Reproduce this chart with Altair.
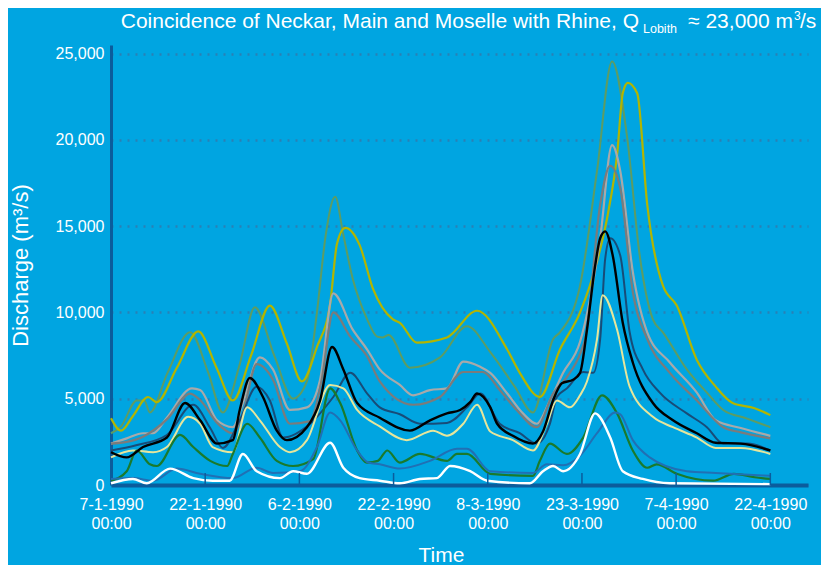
import altair as alt
import pandas as pd

BG = "#00a5e1"
AXIS_BLUE = "#0b5c9c"
GRID_BLUE = "#2a80b5"

# Days since 7-1-1990 00:00 and discharge (m3/s) per hydrograph
mg_d = [0, 1.6, 4.1, 5.3, 6.2, 9.0, 12.6, 15.5, 17.8, 20.5, 22.9, 26.0, 29.0, 31.2, 32.8, 34.2, 35.7, 37.0, 38.5, 40.8, 42.4, 43.3, 44.2, 47.6, 52.4, 56.7, 60.4, 64.3, 67.2, 70.4, 71.5, 74.7, 77.4, 79.8, 82.2, 84.2, 86.3, 87.9, 91.7, 94.9, 97.5, 101.3, 105]
mg_q = [3000, 3400, 4900, 4900, 4200, 6500, 8850, 6500, 4200, 7000, 10300, 7500, 5000, 6000, 10000, 14500, 16700, 14500, 11950, 9600, 8600, 8550, 8700, 6800, 7400, 9200, 7700, 5700, 4200, 8450, 8850, 11550, 18200, 24550, 20150, 13300, 9600, 8850, 6700, 5350, 4350, 3850, 3350]

yg_d = [0, 1.6, 3.5, 5.9, 7.3, 10.5, 13.9, 16.8, 19.4, 22.3, 25.3, 28.0, 30.4, 32.8, 34.9, 36.0, 37.3, 39.6, 41.7, 44.9, 46.0, 48.7, 53.5, 58.3, 63.1, 65.1, 68.3, 71.5, 74.7, 77.4, 79.1, 80.6, 81.5, 82.3, 83.8, 85.4, 87.9, 90.1, 93.3, 96.3, 99.0, 102.5, 105]
yg_q = [3870, 3150, 4000, 5100, 4800, 6800, 8900, 6800, 4900, 7500, 10400, 8200, 6000, 8000, 10500, 14000, 14900, 13900, 11400, 9600, 9400, 8250, 8550, 10100, 7850, 6500, 5100, 7850, 10000, 12950, 15650, 19150, 22700, 23300, 22700, 16250, 11550, 10400, 7250, 5700, 4750, 4450, 4050]

lg_d = [0, 2.5, 5.1, 6.7, 8.9, 12.9, 14.2, 16.9, 19.4, 21.0, 23.7, 25.8, 28.5, 31.2, 33.3, 35.4, 38.5, 40.8, 42.8, 46.0, 48.1, 50.8, 53.5, 56.1, 58.8, 60.4, 63.1, 65.6, 67.8, 69.9, 72.0, 74.7, 77.9, 79.8, 81.1, 83.1, 85.4, 89.0, 93.3, 96.3, 100.3, 105]
lg_q = [2400, 2700, 3000, 3000, 3900, 5600, 5500, 3750, 3350, 4750, 7400, 6700, 4350, 4500, 6100, 11100, 9000, 7850, 6700, 5800, 5200, 5500, 5600, 7150, 6850, 6500, 5300, 4150, 3550, 4900, 6500, 8300, 14300, 19700, 18200, 12350, 8850, 7100, 5350, 3750, 3300, 2850]

dg_d = [0, 2.5, 5.1, 8.9, 12.6, 14.5, 16.9, 19.4, 21.0, 23.2, 25.8, 28.5, 31.7, 33.5, 35.4, 38.1, 40.8, 42.8, 48.1, 52.4, 56.1, 59.2, 61.9, 64.6, 67.8, 70.4, 72.6, 74.7, 75.6, 77.9, 79.5, 81.1, 83.1, 85.4, 89.0, 93.3, 97.5, 100.3, 105]
dg_q = [2400, 2500, 2800, 3800, 5300, 4800, 3600, 3000, 4150, 7000, 6100, 3550, 3700, 6000, 10000, 8600, 7450, 6000, 4650, 5100, 6550, 6550, 5500, 4350, 3350, 5300, 6250, 7600, 8600, 16250, 18500, 17200, 11200, 8450, 6500, 4900, 3350, 3050, 2700]

nv_d = [0, 4.0, 8.9, 13.1, 15.8, 17.8, 20.5, 23.2, 25.3, 27.4, 31.7, 35.4, 38.1, 40.8, 42.8, 46.0, 49.2, 53.5, 56.7, 58.8, 61.9, 65.1, 67.8, 69.9, 71.0, 72.6, 75.2, 76.8, 77.9, 78.7, 79.5, 81.1, 82.6, 84.7, 87.4, 91.7, 94.9, 97.5, 101.3, 105]
nv_q = [2000, 2300, 2900, 4650, 3300, 2150, 3750, 5700, 4900, 2750, 3550, 5100, 6500, 5300, 4500, 4100, 3550, 3600, 4500, 5300, 3550, 3000, 2400, 3550, 5100, 5600, 6550, 6500, 8450, 13100, 14300, 13300, 8850, 6700, 5350, 4150, 3350, 2400, 2400, 2000]

py_d = [0, 3.5, 6.7, 8.9, 12.3, 14.2, 16.2, 19.4, 21.7, 23.7, 26.9, 28.5, 31.2, 34.9, 37.0, 39.2, 42.8, 47.1, 51.3, 53.5, 56.1, 58.3, 60.4, 64.0, 67.2, 69.4, 71.0, 73.1, 74.7, 75.8, 77.4, 78.3, 80.6, 82.6, 86.3, 89.5, 93.3, 96.3, 100.3, 105]
py_q = [1600, 2000, 1900, 2200, 3950, 3550, 2200, 1900, 4500, 3750, 2200, 1900, 2600, 5800, 5600, 4350, 3400, 2600, 3150, 2850, 3550, 4650, 3100, 2600, 2000, 3550, 4900, 4500, 5200, 6000, 8450, 11000, 9000, 5700, 3950, 3350, 2750, 2150, 2150, 1800]

gr_d = [0, 2.5, 4.1, 6.2, 7.3, 11.0, 13.1, 15.8, 18.5, 19.4, 21.7, 23.7, 26.4, 29.0, 32.2, 34.9, 36.5, 39.2, 40.8, 42.5, 44.0, 46.0, 49.2, 53.5, 55.1, 56.7, 60.4, 67.2, 68.3, 69.9, 72.6, 75.2, 78.2, 80.6, 83.1, 85.4, 86.9, 90.1, 95.9, 99.2, 102.5, 105]
gr_q = [250, 800, 2000, 1200, 1100, 2900, 2200, 1400, 1100, 1800, 3550, 2750, 1400, 1100, 1500, 5600, 4750, 2000, 1300, 1400, 2000, 1300, 1800, 1400, 1800, 1800, 650, 530, 1400, 2400, 1800, 2750, 5200, 4150, 2000, 1000, 1200, 650, 250, 650, 450, 350]

mb_d = [0, 3.5, 6.7, 10.5, 14.2, 19.4, 23.2, 25.8, 30.1, 32.8, 34.9, 36.5, 39.2, 41.0, 42.8, 46.0, 50.8, 55.1, 56.7, 60.4, 67.2, 69.4, 72.0, 74.7, 77.4, 80.3, 81.1, 83.1, 85.8, 91.7, 96.3, 105]
mb_q = [350, 400, 250, 950, 650, 400, 1000, 700, 800, 2200, 4200, 3750, 2000, 1300, 1200, 950, 1400, 2100, 2100, 800, 700, 1200, 1150, 1700, 3000, 4200, 4100, 2600, 1600, 800, 700, 530]

wh_d = [0, 3.5, 5.7, 9.4, 13.1, 16.2, 18.9, 21.0, 23.2, 26.9, 29.0, 31.2, 34.9, 37.0, 39.6, 42.8, 46.0, 49.2, 51.9, 54.0, 57.2, 59.9, 66.7, 68.8, 70.4, 72.0, 74.7, 77.1, 79.5, 81.5, 84.7, 89.0, 105]
wh_q = [100, 350, 100, 950, 400, 250, 250, 1800, 800, 400, 800, 650, 2450, 1000, 400, 250, 100, 350, 400, 1100, 800, 250, 100, 800, 1100, 800, 1800, 4150, 2750, 800, 350, 100, 50]

bk_d = [0, 2.5, 5.1, 8.9, 11.8, 14.2, 16.9, 19.4, 20.5, 22.1, 24.2, 26.4, 28.0, 31.2, 33.3, 35.2, 37.0, 39.2, 42.8, 47.6, 50.8, 53.5, 55.6, 57.2, 58.3, 60.4, 61.5, 64.0, 67.2, 68.8, 70.4, 71.8, 73.6, 74.7, 75.8, 77.1, 77.9, 78.7, 79.9, 81.5, 83.1, 86.3, 89.5, 93.3, 96.3, 100.3, 105]
bk_q = [1900, 1600, 2200, 2750, 4750, 3750, 2400, 2600, 4350, 6200, 5100, 3150, 2600, 3350, 4900, 8000, 6700, 4750, 3900, 3150, 3750, 4150, 4350, 4800, 5300, 4500, 3550, 2850, 2400, 3100, 4900, 5900, 6100, 6500, 9000, 12700, 14300, 14700, 13300, 9400, 7100, 4750, 3750, 3000, 2450, 2400, 2000]

tick_days = [0, 15, 30, 45, 60, 75, 90, 105]
tick_labels = ["7-1-1990", "22-1-1990", "6-2-1990", "22-2-1990", "8-3-1990", "23-3-1990", "7-4-1990", "22-4-1990"]
y_ticks = [0, 5000, 10000, 15000, 20000, 25000]

# drawing order, colour, width
series = [
    ("mg", mg_d, mg_q, "#5d9c63", 2.0),
    ("yg", yg_d, yg_q, "#b2b500", 2.2),
    ("lg", lg_d, lg_q, "#a9a9a9", 2.2),
    ("dg", dg_d, dg_q, "#7b7b7b", 2.2),
    ("nv", nv_d, nv_q, "#184c78", 2.0),
    ("py", py_d, py_q, "#e6e69c", 2.0),
    ("gr", gr_d, gr_q, "#1a7a2c", 2.2),
    ("mb", mb_d, mb_q, "#2070b4", 2.0),
    ("wh", wh_d, wh_q, "#ffffff", 2.4),
    ("bk", bk_d, bk_q, "#000000", 2.4),
]

W, H = 697, 440
FONT = "Liberation Sans"

label_expr = "[" + ",".join("['%s','00:00']" % l for l in tick_labels) + "][round(datum.value/15)]"

x_enc = alt.X(
    "day:Q",
    scale=alt.Scale(domain=[0, 111], nice=False, zero=False),
    axis=alt.Axis(
        values=tick_days, labelExpr=label_expr, labelFlush=False, labelOverlap=False,
        grid=False, ticks=False, domainColor=AXIS_BLUE, domainWidth=4,
        labelColor="white", labelFontSize=16, labelFont=FONT, labelPadding=11,
        labelLineHeight=19,
        title="Time", titleColor="white", titleFontSize=21, titleFont=FONT,
        titleFontWeight="normal", titleX=330, titleY=70, titleBaseline="middle",
        titleAnchor="start", titleAlign="center",
    ),
)
y_enc = alt.Y(
    "q:Q",
    scale=alt.Scale(domain=[0, 25500], nice=False),
    axis=alt.Axis(
        values=y_ticks, format=",.0f", grid=True, gridDash=[2, 6], gridColor=GRID_BLUE,
        gridWidth=2.5, ticks=False, domainColor=AXIS_BLUE, domainWidth=3,
        labelColor="white", labelFontSize=16, labelFont=FONT, labelPadding=7,
        title="Discharge (m³/s)", titleColor="white", titleFontSize=22, titleFont=FONT,
        titleFontWeight="normal", titleAngle=-90, titleX=-91, titleY=220,
        titleBaseline="middle", titleAlign="center", titleAnchor="start",
    ),
)

layers = []
for name, d, q, color, width in series:
    df = pd.DataFrame({"day": d, "q": q, "series": name})
    layers.append(
        alt.Chart(df).mark_line(color=color, strokeWidth=width, interpolate="monotone")
        .encode(x=x_enc, y=y_enc)
    )

ticks_df = pd.DataFrame({"day": tick_days[1:]})
tick_layer = alt.Chart(ticks_df).mark_rule(color=AXIS_BLUE, strokeWidth=1.5).encode(
    x=alt.X("day:Q"), y=alt.value(H - 12), y2=alt.value(H)
)

one = pd.DataFrame({"a": [0]})


def txt(text, x, y, size, align="left"):
    return alt.Chart(one).mark_text(
        text=text, color="white", font=FONT, fontSize=size, align=align, baseline="alphabetic"
    ).encode(x=alt.value(x), y=alt.value(y))


title_layers = [
    txt("Coincidence of Neckar, Main and Moselle with Rhine, Q", 528, -17.5, 21, "right"),
    txt("Lobith", 532, -12, 12.5),
    txt("≈ 23,000 m", 682, -17.5, 21, "right"),
    txt("3", 683, -25.5, 12),
    txt("/s", 689, -17.5, 21),
]

chart = alt.layer(*layers, tick_layer, *title_layers).properties(
    width=W, height=H,
    padding={"left": 103, "top": 37, "right": 13, "bottom": 80},
    autosize=alt.AutoSizeParams(type="none"),
    background=BG,
    usermeta={"embedOptions": {"defaultStyle": "body{background:%s;}" % BG}},
).configure_view(stroke=None)

chart.save("out.html", embed_options={"renderer": "svg", "actions": False})
